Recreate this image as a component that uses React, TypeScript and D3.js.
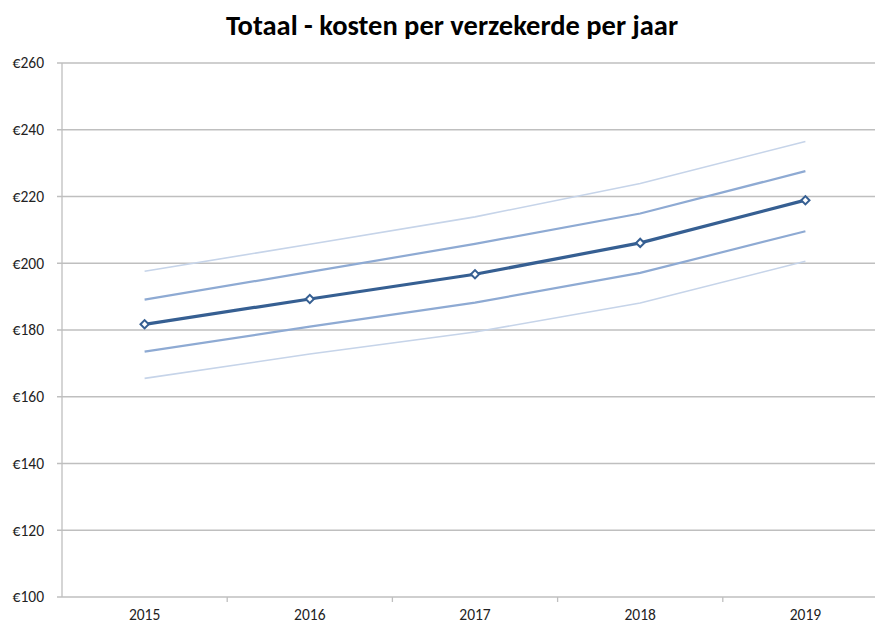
import React from "react";
import * as d3 from "d3";

const years = ["2015", "2016", "2017", "2018", "2019"];
const yTicks = [100, 120, 140, 160, 180, 200, 220, 240, 260];

const mainSeries = [181.7, 189.3, 196.7, 206.1, 218.9];
const upper1 = [189.1, 197.4, 205.8, 214.9, 227.6];
const lower1 = [173.5, 181.0, 188.2, 197.1, 209.6];
const upper2 = [197.6, 205.7, 213.9, 223.9, 236.5];
const lower2 = [165.5, 172.8, 179.4, 188.1, 200.6];

const W = 875;
const H = 624;
const left = 62;
const right = 888; // plot runs past the picture edge, as in the original
const top = 63;
const bottom = 597;
const font = "Carlito, Lato, 'Liberation Sans', sans-serif";

export default function App() {
  const x = d3.scaleBand<string>().domain(years).range([left, right]);
  const y = d3.scaleLinear().domain([100, 260]).range([bottom, top]);
  const cx = (yr: string) => (x(yr) as number) + x.bandwidth() / 2;

  const line = (vals: number[]) =>
    d3.line<number>().x((_, i) => cx(years[i])).y((v) => y(v))(vals) as string;

  const bands = [
    { vals: upper2, color: "#c6d4e9", w: 1.6 },
    { vals: lower2, color: "#c6d4e9", w: 1.6 },
    { vals: upper1, color: "#8eaad3", w: 2.2 },
    { vals: lower1, color: "#8eaad3", w: 2.2 },
  ];

  // square turned 45deg, like the office-style diamond marker
  const marker = d3.symbol().type(d3.symbolSquare).size(34)() as string;

  return (
    <svg width={W} height={H} style={{ position: "absolute", left: 0, top: 0, background: "#fff" }}>
      <text x={452} y={35} textAnchor="middle" fontFamily={font} fontWeight="bold" fontSize={28.5} fill="#000">
        Totaal - kosten per verzekerde per jaar
      </text>

      {yTicks.map((t) => (
        <g key={t}>
          <line x1={left - 5} x2={right} y1={y(t)} y2={y(t)} stroke="#bfbfbf" strokeWidth={1.3} />
          <text x={44} y={y(t)} dy="0.35em" textAnchor="end" fontFamily={font} fontSize={15.5} fill="#222">
            €{t}
          </text>
        </g>
      ))}
      <line x1={left} x2={left} y1={top} y2={bottom} stroke="#bfbfbf" strokeWidth={1.3} />

      {years.map((yr, i) => (
        <g key={yr}>
          {i > 0 && (
            <line x1={x(yr)} x2={x(yr)} y1={bottom} y2={bottom + 5} stroke="#bfbfbf" strokeWidth={1.3} />
          )}
          <text x={cx(yr)} y={619.5} textAnchor="middle" fontFamily={font} fontSize={15.5} fill="#222">
            {yr}
          </text>
        </g>
      ))}

      {bands.map((b, i) => (
        <path key={i} d={line(b.vals)} fill="none" stroke={b.color} strokeWidth={b.w} />
      ))}

      <path d={line(mainSeries)} fill="none" stroke="#365f92" strokeWidth={3.2} />
      {mainSeries.map((v, i) => (
        <path
          key={i}
          d={marker}
          transform={`translate(${cx(years[i])},${y(v)}) rotate(45)`}
          fill="#fff"
          stroke="#365f92"
          strokeWidth={2}
        />
      ))}
    </svg>
  );
}
